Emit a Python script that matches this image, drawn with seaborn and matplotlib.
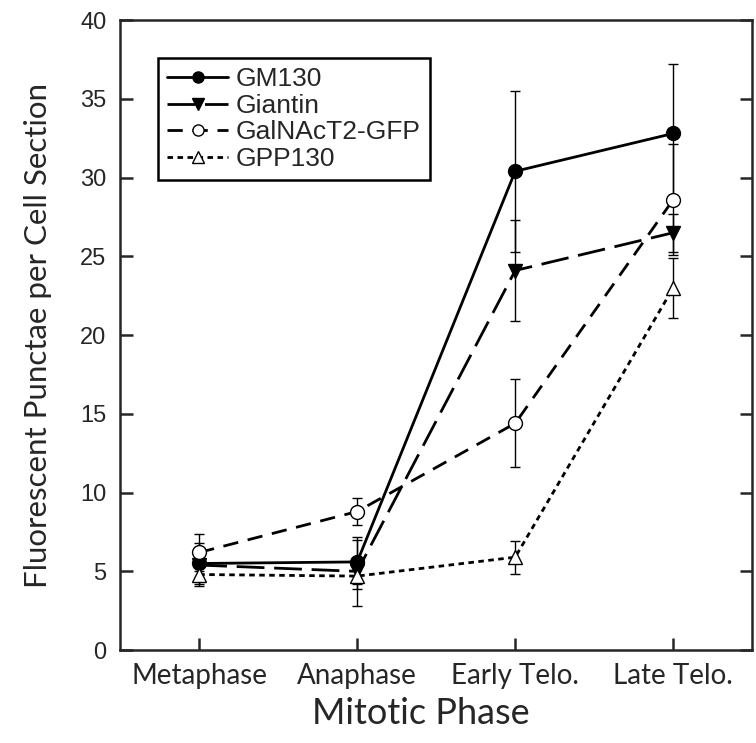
import numpy as np
import pandas as pd
import matplotlib
matplotlib.use("Agg")
import matplotlib.pyplot as plt
import seaborn as sns

phases = ["Metaphase", "Anaphase", "Early Telo.", "Late Telo."]

gm130 = [5.5, 5.6, 30.4, 32.8]
gm130_err = [1.3, 1.4, 5.1, 4.4]
giantin = [5.4, 5.0, 24.1, 26.5]
giantin_err = [1.0, 2.2, 3.2, 1.2]
galnact2 = [6.2, 8.8, 14.4, 28.6]
galnact2_err = [1.2, 0.85, 2.8, 3.5]
gpp130 = [4.8, 4.7, 5.9, 23.0]
gpp130_err = [0.7, 0.8, 1.05, 1.9]

names = ["GM130", "Giantin", "GalNAcT2-GFP", "GPP130"]
values = [gm130, giantin, galnact2, gpp130]
errors = [gm130_err, giantin_err, galnact2_err, gpp130_err]

# long form table for seaborn
rows = []
for name, vals, errs in zip(names, values, errors):
    for i, (v, e) in enumerate(zip(vals, errs)):
        rows.append({"series": name, "x": i, "y": v, "err": e})
df = pd.DataFrame(rows)

sns.set_style("ticks")
plt.rcParams['font.family'] = ['Liberation Sans', 'DejaVu Sans']

styles = {
    "GM130": dict(linestyle="-", marker="o", mfc="black"),
    "Giantin": dict(linestyle=(0, (10, 3.5)), marker="v", mfc="black"),
    "GalNAcT2-GFP": dict(linestyle=(0, (5.5, 3.5)), marker="o", mfc="white"),
    "GPP130": dict(linestyle=(0, (2, 1.6)), marker="^", mfc="white"),
}

fig = plt.figure(figsize=(7.56, 7.43), dpi=100)
ax = fig.add_axes([0.159, 0.125, 0.836, 0.848])

for name in names:
    sub = df[df["series"] == name]
    ax.errorbar(sub["x"], sub["y"], yerr=sub["err"], fmt="none", ecolor="black",
                elinewidth=1.0, capsize=3.5, capthick=1.0, zorder=2)
    st = styles[name]
    sns.lineplot(data=sub, x="x", y="y", ax=ax, color="black", linewidth=2,
                 linestyle=st["linestyle"], marker=st["marker"], markersize=10,
                 markerfacecolor=st["mfc"], markeredgecolor="black",
                 markeredgewidth=1.0, label=name, zorder=3)

ax.set_xlim(-0.5, 3.5)
ax.set_ylim(0, 40)
ax.set_xticks(range(len(phases)))
ax.set_xticklabels(phases, family=["Lato", "DejaVu Sans"], fontsize=20)
ax.set_yticks(np.arange(0, 41, 5))
ax.tick_params(axis="y", labelsize=17, direction="in", length=9, width=1.8,
               right=True, pad=10)
ax.tick_params(axis="x", direction="in", length=9, width=1.8, pad=9)
for sp in ax.spines.values():
    sp.set_linewidth(1.8)
    sp.set_visible(True)

ax.set_xlabel("Mitotic Phase", family=["Lato", "DejaVu Sans"], fontsize=26, labelpad=6)
ax.xaxis.set_label_coords(0.476, -0.075, transform=ax.transAxes)
ax.xaxis.label.set_va("top")
ax.set_ylabel("Fluorescent Punctae per Cell Section", family=["Lato", "DejaVu Sans"],
              fontsize=22.5, labelpad=20)

leg = ax.legend(loc="upper left", bbox_to_anchor=(0.06, 0.94), fontsize=19,
                fancybox=False, framealpha=1, edgecolor="black",
                handlelength=2.3, handletextpad=0.3, borderpad=0.35,
                labelspacing=0.1, borderaxespad=0, markerscale=0.8)
leg.get_frame().set_linewidth(1.8)

fig.savefig("out.png", dpi=100)
